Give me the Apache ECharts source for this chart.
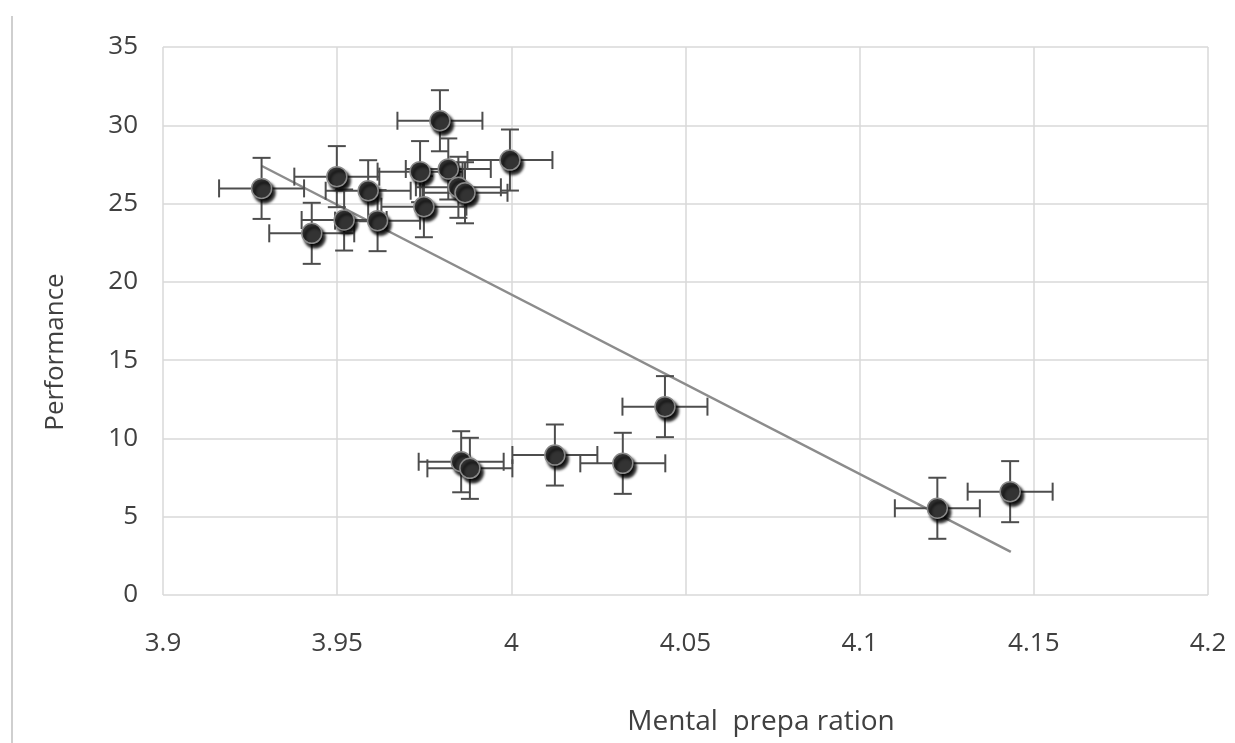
<!DOCTYPE html>
<html>
<head>
<meta charset="utf-8">
<script src="https://cdn.jsdelivr.net/npm/echarts@6/dist/echarts.min.js"></script>
<style>
  html, body { margin: 0; padding: 0; background: #fff; }
  #chart { width: 1235px; height: 743px; }
</style>
</head>
<body>
<div id="chart"></div>
<script>
// values
var prepValues = [3.9283, 3.9427, 3.9499, 3.9520, 3.9589, 3.9616, 3.9738, 3.9749, 3.9795, 3.9819,
  3.9848, 3.9867, 3.9996, 3.9856, 3.9881, 4.0125, 4.0320, 4.0441, 4.1223, 4.1432];
var perfValues = [25.97, 23.10, 26.72, 23.95, 25.82, 23.91, 27.04, 24.80, 30.29, 27.21,
  26.04, 25.69, 27.78, 8.51, 8.09, 8.94, 8.41, 12.03, 5.54, 6.60];
var prepError = 0.0122; // x error bar half-width
var perfError = 1.95;   // y error bar half-height
var trendX = [3.9284, 4.1434];
var trendY = [27.4, 2.75];

var points = prepValues.map(function (x, i) { return [x, perfValues[i]]; });
var trend = trendX.map(function (x, i) { return [x, trendY[i]]; });

var myChart = echarts.init(document.getElementById("chart"));
var labelFont = { color: "#404040", fontSize: 26, fontFamily: "Open Sans" };

var option = {
  animation: false,
  backgroundColor: "#fff",
  grid: { left: 163, right: 27, top: 47, bottom: 148 },
  xAxis: {
    type: "value",
    min: 3.9,
    max: 4.2,
    interval: 0.05,
    name: "Mental  prepa ration",
    nameLocation: "middle",
    nameGap: 113,
    nameTextStyle: { color: "#404040", fontSize: 28, fontFamily: "Open Sans", padding: [0, 0, 0, 151] },
    axisLine: { show: false },
    axisTick: { show: false },
    axisLabel: Object.assign({ margin: 36, formatter: function (v) { return String(+v.toFixed(2)); } }, labelFont),
    splitLine: { show: true, lineStyle: { color: "#d9d9d9", width: 1.5 } }
  },
  yAxis: {
    type: "value",
    min: 0,
    max: 35,
    interval: 5,
    name: "Performance",
    nameLocation: "middle",
    nameGap: 94,
    nameTextStyle: { color: "#404040", fontSize: 26, fontFamily: "Open Sans", padding: [0, 62, 0, 0] },
    axisLine: { show: false },
    axisTick: { show: false },
    axisLabel: Object.assign({ margin: 25 }, labelFont),
    splitLine: { show: true, lineStyle: { color: "#d9d9d9", width: 1.5 } }
  },
  graphic: [
    { type: "line", shape: { x1: 12, y1: 16, x2: 12, y2: 743 }, style: { stroke: "#cfcfcf", lineWidth: 2 } }
  ],
  series: [
    {
      // trend line
      type: "line",
      data: trend,
      symbol: "none",
      lineStyle: { color: "#8c8c8c", width: 2.5 },
      z: 2
    },
    {
      // error bars
      type: "custom",
      data: points,
      z: 3,
      renderItem: function (params, api) {
        var x = api.value(0), y = api.value(1);
        var l = api.coord([x - prepError, y]);
        var r = api.coord([x + prepError, y]);
        var t = api.coord([x, y + perfError]);
        var b = api.coord([x, y - perfError]);
        var cap = 9;
        var st = { stroke: "#4d4d4d", lineWidth: 2 };
        return {
          type: "group",
          children: [
            { type: "line", shape: { x1: l[0], y1: l[1], x2: r[0], y2: r[1] }, style: st },
            { type: "line", shape: { x1: l[0], y1: l[1] - cap, x2: l[0], y2: l[1] + cap }, style: st },
            { type: "line", shape: { x1: r[0], y1: r[1] - cap, x2: r[0], y2: r[1] + cap }, style: st },
            { type: "line", shape: { x1: t[0], y1: t[1], x2: b[0], y2: b[1] }, style: st },
            { type: "line", shape: { x1: t[0] - cap, y1: t[1], x2: t[0] + cap, y2: t[1] }, style: st },
            { type: "line", shape: { x1: b[0] - cap, y1: b[1], x2: b[0] + cap, y2: b[1] }, style: st }
          ]
        };
      }
    },
    {
      type: "scatter",
      data: points,
      symbol: "circle",
      symbolSize: 20,
      z: 4,
      itemStyle: {
        color: "#333333",
        borderColor: "#8a8a8a",
        borderWidth: 1.5,
        opacity: 1,
        shadowColor: "rgba(0,0,0,0.95)",
        shadowBlur: 3,
        shadowOffsetX: 3,
        shadowOffsetY: 4
      }
    }
  ]
};
myChart.setOption(option);
window.addEventListener("resize", function () {
  myChart.resize();
});
</script>
</body>
</html>
